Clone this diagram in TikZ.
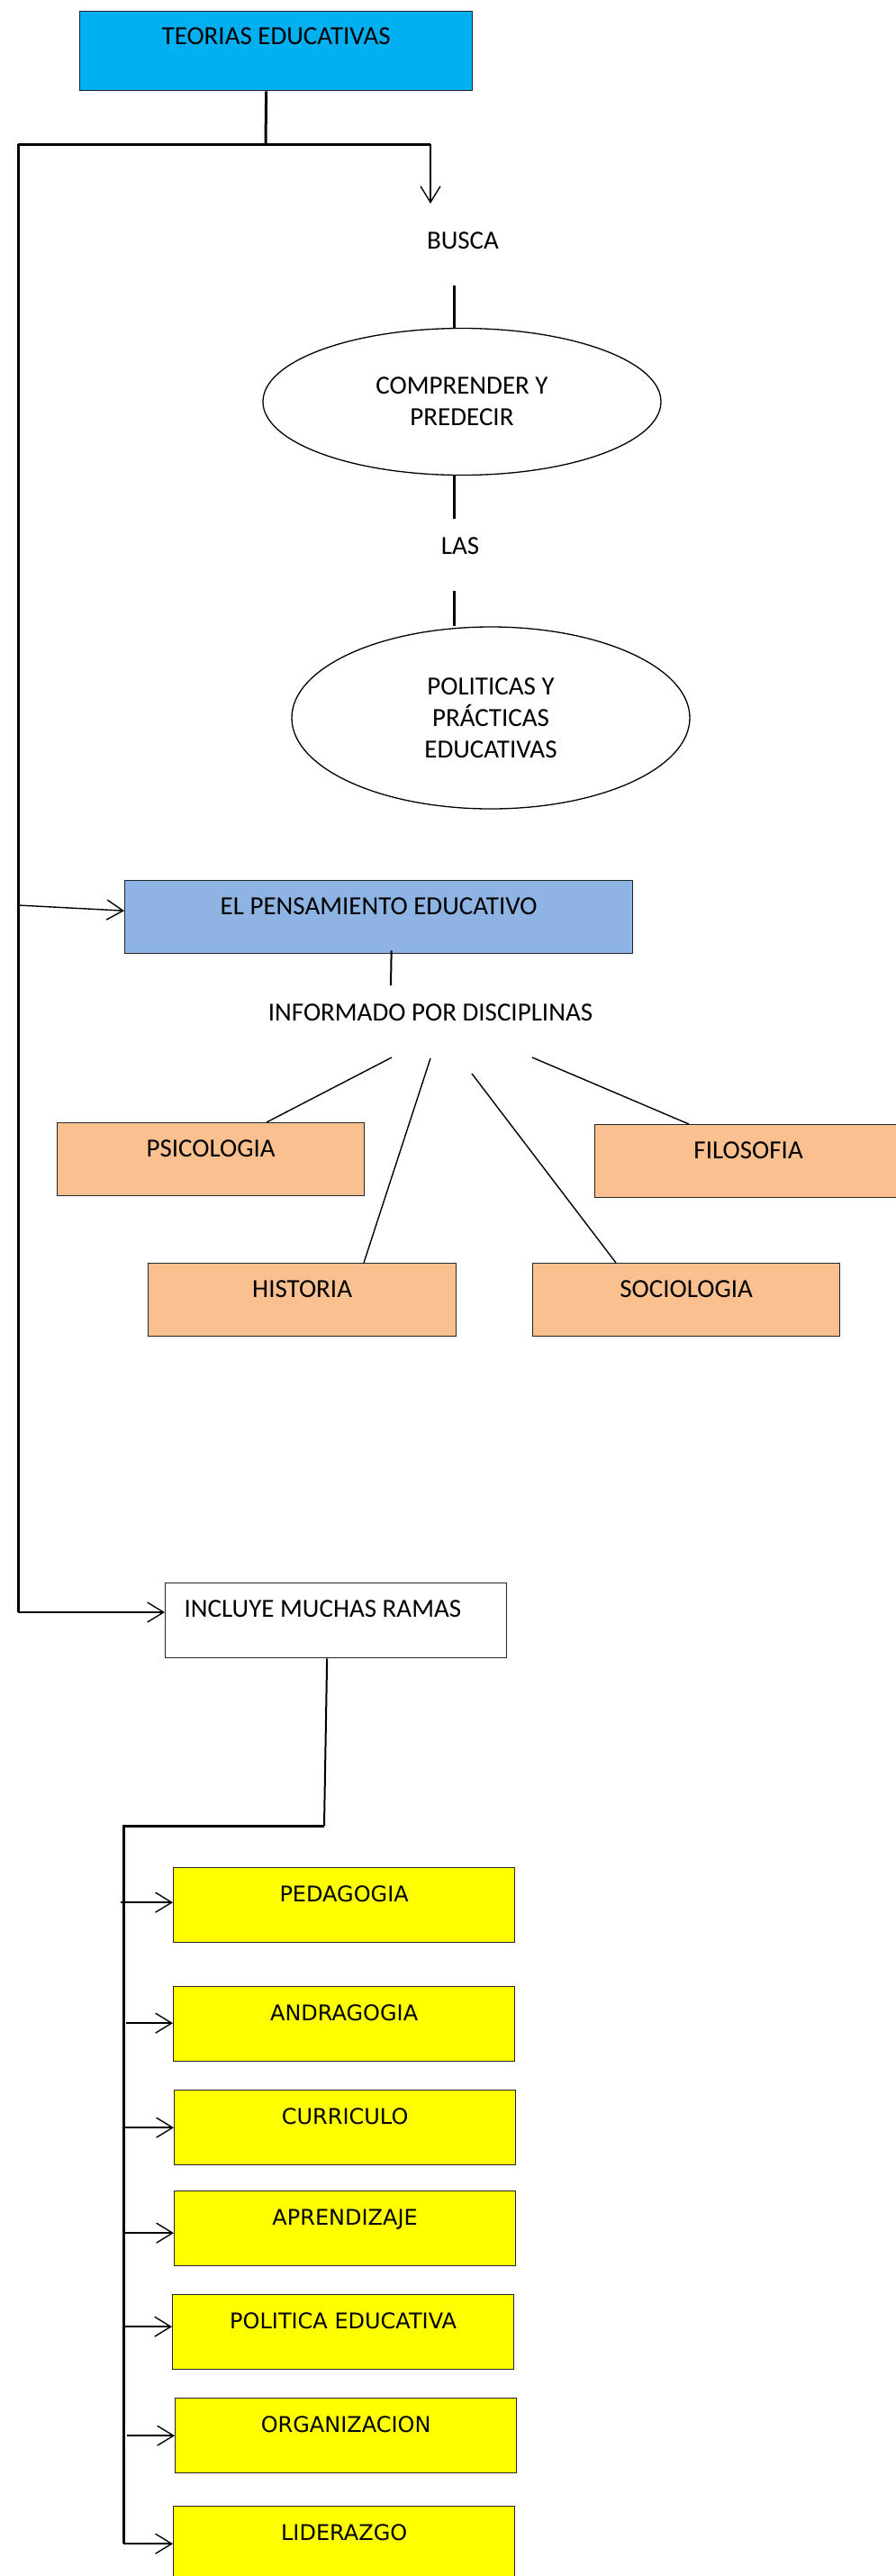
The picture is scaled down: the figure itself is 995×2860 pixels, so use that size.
\documentclass[tikz,border=0pt]{standalone}
\usepackage{fontspec}
\setmainfont{Carlito}
\newfontfamily\verdana{DejaVu Sans}
\usetikzlibrary{arrows.meta,shapes.geometric}
\definecolor{celeste}{HTML}{00B0F0}
\definecolor{azul}{HTML}{8EB4E3}
\definecolor{durazno}{HTML}{FAC090}
\definecolor{amarillo}{HTML}{FFFF00}

\begin{document}
\begin{tikzpicture}[x=1pt,y=-1pt,font=\fontsize{29pt}{35pt}\selectfont,>={Straight Barb[length=18pt,width=22pt]}]
\useasboundingbox (0,0) rectangle (995,2860);
% Box and line styles
\tikzstyle{caja}=[draw=black!85,line width=1.3pt,anchor=north west,inner sep=0pt,minimum width=341pt,text height=38pt,text depth=43pt];
\tikzstyle{rama}=[caja,fill=amarillo,minimum width=379pt,text depth=45pt,font=\verdana\fontsize{24pt}{29pt}\selectfont];
\tikzstyle{elipse}=[ellipse,draw,line width=1.3pt,align=center,inner sep=0pt,minimum width=442pt];
\tikzstyle{grueso}=[line width=3pt];
\tikzstyle{medio}=[line width=2pt];
\tikzstyle{fino}=[line width=1.4pt];
% Upper part
\node[caja,fill=celeste,minimum width=436pt,text height=37pt,text depth=51pt](teorias) at (88,12){TEORIAS EDUCATIVAS};
\node(busca) at (514,267){BUSCA};
\node[elipse,minimum height=163pt](comprender) at (513,446){COMPRENDER Y\\PREDECIR};
\node(las) at (511,606){LAS};
\node[elipse,minimum height=202pt](politicas) at (545,797){POLITICAS Y\\PRÁCTICAS\\EDUCATIVAS};
% Thought and disciplines
\node[caja,fill=azul,minimum width=564pt](pensamiento) at (138,977){EL PENSAMIENTO EDUCATIVO};
\node(informado) at (478,1124){INFORMADO POR DISCIPLINAS};
\node[caja,fill=durazno](psicologia) at (63,1246){PSICOLOGIA};
\node[caja,fill=durazno](filosofia) at (660,1248){FILOSOFIA};
\node[caja,fill=durazno,minimum width=342pt](historia) at (164,1402){HISTORIA};
\node[caja,fill=durazno](sociologia) at (591,1402){SOCIOLOGIA};
% Branches
\node[caja,fill=white,minimum width=379pt,text width=337pt,inner xsep=21pt,align=flush left,text depth=45pt](incluye) at (183,1757){INCLUYE MUCHAS RAMAS};
\node[rama](pedagogia) at (192,2073){PEDAGOGIA};
\node[rama](andragogia) at (192,2205){ANDRAGOGIA};
\node[rama](curriculo) at (193,2320){CURRICULO};
\node[rama](aprendizaje) at (193,2432){APRENDIZAJE};
\node[rama](politica) at (191,2547){POLITICA EDUCATIVA};
\node[rama](organizacion) at (194,2662){ORGANIZACION};
\node[rama](liderazgo) at (192,2782){LIDERAZGO};
% Free ends and corners
\coordinate(esq1) at (20,160);
\coordinate(esq2) at (478,160);
\coordinate(tope) at (295,160);
\coordinate(flecha) at (478,226);
\coordinate(b1) at (504,317);
\coordinate(b2) at (504,576);
\coordinate(b3) at (504,656);
\coordinate(p0) at (20,1005);
\coordinate(p1) at (434,1094);
\coordinate(d1) at (435,1174);
\coordinate(d2) at (478,1175);
\coordinate(d3) at (524,1192);
\coordinate(d4) at (591,1174);
\coordinate(esq3) at (20,1790);
\coordinate(r1) at (360,2027);
\coordinate(r2) at (137,2027);
% Connectors
\draw[grueso]([xshift=-11pt]teorias.south)--(tope);
\draw[grueso](esq1)--(esq2);
\draw[fino,->](esq2)--(flecha);
\draw[grueso](b1)--(b1|-comprender.north);
\draw[grueso](b1|-comprender.south)--(b2);
\draw[grueso](b3)--(b3|-politicas.north);
\draw[grueso](esq1)--(esq3);
\draw[fino,->](p0)--([yshift=7pt]pensamiento.west);
\draw[medio]([xshift=14pt,yshift=4pt]pensamiento.south)--(p1);
\draw[fino](d1)--([xshift=233pt]psicologia.north west);
\draw[fino](d2)--([xshift=240pt]historia.north west);
\draw[fino](d3)--([xshift=93pt]sociologia.north west);
\draw[fino](d4)--([xshift=105pt]filosofia.north west);
\draw[fino,->](esq3)--(incluye.west|-esq3);
\draw[medio]([xshift=-10pt]incluye.south)--(r1);
\draw[grueso](r1)--(r2)--(liderazgo.west-|r2);
\draw[fino,->]([xshift=-3pt,yshift=3pt]pedagogia.west-|r2)--([yshift=3pt]pedagogia.west);
\draw[fino,->]([xshift=3pt,yshift=1pt]andragogia.west-|r2)--([yshift=1pt]andragogia.west);
\draw[fino,->](curriculo.west-|r2)--(curriculo.west);
\draw[fino,->]([yshift=-5pt]aprendizaje.west-|r2)--([yshift=-5pt]aprendizaje.west);
\draw[fino,->]([yshift=6pt]politica.west-|r2)--([yshift=6pt]politica.west);
\draw[fino,->]([xshift=4pt]organizacion.west-|r2)--(organizacion.west);
\draw[fino,->](liderazgo.west-|r2)--(liderazgo.west);
\end{tikzpicture}
\end{document}
